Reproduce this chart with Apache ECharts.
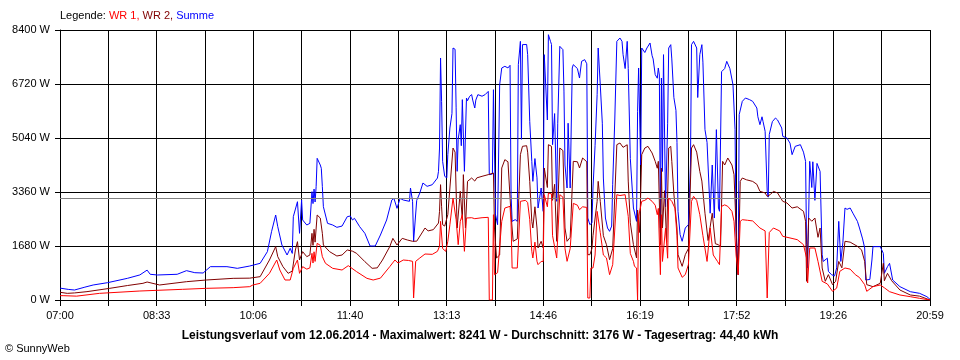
<!DOCTYPE html>
<html>
<head>
<meta charset="utf-8">
<script src="https://cdn.jsdelivr.net/npm/echarts@6/dist/echarts.min.js"></script>
<style>
html,body{margin:0;padding:0;background:#fff;}
#c{width:960px;height:360px;}
</style>
</head>
<body>
<div id="c"></div>
<script>
// time axis: minutes after 07:00, up to 20:59
const xMax = 839;
const tickLabels = ['07:00','08:33','10:06','11:40','13:13','14:46','16:19','17:52','19:26','20:59'];
const yMax = 8400;
const yStep = 1680;
const average = 3176;

// Summe [minute, W]
const summe = [[0,370],[8,330],[14,311],[24,400],[32,467],[46,540],[65,674],[77,780],[84,930],[87,800],[94,778],[113,800],[122,913],[130,850],[138,840],[145,1037],[161,1037],[171,985],[183,1057],[193,1141],[200,1504],[204,2125],[208,2644],[210,2281],[214,1711],[219,1400],[222,1608],[224,1450],[225,2592],[229,3058],[231,2074],[233,3111],[234,2489],[238,2333],[241,2385],[243,3370],[244,3000],[245,3450],[246,3050],[247,3526],[248,4408],[249,4350],[251,4200],[252,4097],[253,3526],[254,2903],[258,2385],[263,2333],[267,2261],[272,2300],[277,2592],[280,2613],[282,2489],[284,2541],[289,2281],[294,2074],[299,1680],[304,1680],[309,2022],[315,2489],[320,3111],[322,3163],[325,2852],[328,3163],[331,3111],[337,3070],[338,3484],[340,3070],[341,1826],[344,3100],[347,3329],[350,3640],[354,3536],[359,3587],[364,3795],[365,4003],[366,4728],[367,7529],[368,6180],[369,4314],[371,3848],[373,3800],[374,4522],[376,5351],[378,5800],[379,7840],[381,7800],[382,6000],[383,4003],[384,5000],[386,5455],[387,4800],[388,6233],[390,4003],[392,6284],[393,6200],[395,6336],[397,6390],[398,6220],[400,5973],[401,6220],[403,6388],[407,6340],[410,6390],[413,6490],[414,3900],[417,3920],[418,6543],[419,6600],[420,2654],[422,2343],[424,6698],[426,7218],[429,7270],[432,7220],[434,7300],[435,3277],[436,2447],[439,2500],[441,2447],[442,7322],[444,8047],[445,5000],[446,7944],[450,7950],[451,7633],[453,5558],[455,4314],[456,3692],[458,4400],[460,3800],[461,2862],[464,3484],[466,2758],[467,7633],[470,5600],[471,8254],[473,8047],[474,7950],[475,4832],[477,5800],[479,3070],[480,5500],[482,7892],[485,7788],[486,6500],[487,4200],[489,3484],[490,5500],[492,3484],[494,7218],[495,7322],[499,7200],[501,6906],[503,7425],[506,7477],[508,7350],[509,2551],[511,2343],[513,2400],[514,3484],[516,4800],[518,6388],[519,7840],[521,6700],[523,5500],[524,3795],[526,2551],[528,2240],[530,2136],[532,2300],[533,3600],[535,5600],[537,8047],[540,8151],[542,8047],[543,7633],[545,7200],[547,8047],[548,7200],[550,4400],[553,2862],[556,2447],[557,5870],[558,7218],[560,4200],[561,7840],[564,7700],[566,7840],[569,7996],[571,7600],[572,7500],[574,7011],[576,6900],[577,7218],[578,7000],[579,2240],[580,6906],[581,4000],[582,7633],[584,2900],[586,5500],[587,7840],[589,7944],[590,7500],[592,6300],[594,5900],[595,4900],[596,2758],[598,2033],[600,1826],[603,2240],[606,2343],[608,4200],[609,7944],[611,8047],[614,7840],[615,6300],[617,7633],[619,7944],[620,7400],[622,5300],[624,4900],[627,2700],[629,4200],[631,2550],[633,5300],[635,2862],[636,2760],[638,7103],[641,7200],[643,7425],[646,7200],[649,6698],[651,5300],[652,2033],[654,788],[655,5766],[658,6180],[661,6284],[665,6233],[668,6180],[672,5973],[673,5700],[675,5455],[677,5700],[678,5550],[680,5247],[682,3381],[683,3200],[684,5150],[687,5550],[690,5662],[692,5600],[696,5351],[697,5092],[701,5040],[704,4880],[706,4522],[709,4780],[714,4832],[717,4600],[719,4314],[720,1721],[721,996],[723,4314],[725,3500],[726,4300],[728,3100],[730,4250],[731,4200],[733,4000],[735,1410],[736,1200],[740,1300],[741,892],[744,788],[747,750],[749,1000],[751,2447],[753,1200],[755,1800],[757,2862],[759,2820],[762,2862],[765,2680],[769,2447],[771,2240],[774,1900],[776,1618],[777,622],[781,640],[783,1244],[784,1660],[791,1660],[794,1452],[795,830],[798,1037],[800,1141],[803,622],[810,415],[820,259],[829,207],[836,104],[839,21]];

// WR 2 [minute, W]
const wr2 = [[0,240],[7,207],[14,220],[26,260],[48,363],[65,450],[80,519],[84,560],[96,467],[122,570],[141,622],[167,674],[183,680],[193,726],[202,1244],[208,1660],[210,1348],[215,1037],[220,830],[224,900],[227,1556],[229,1815],[231,1244],[234,1504],[238,1348],[241,1400],[243,2074],[244,1700],[245,2200],[246,1800],[248,2644],[251,2550],[253,2074],[254,1711],[260,1504],[267,1369],[272,1400],[277,1556],[282,1520],[286,1452],[294,1193],[301,985],[306,1000],[311,1244],[318,1660],[321,1918],[325,1711],[330,1918],[335,1867],[340,1826],[344,1830],[349,2084],[352,2240],[355,2150],[360,2188],[365,2395],[366,2758],[367,3588],[368,2900],[369,2343],[371,2300],[374,2654],[376,3484],[379,4728],[381,4600],[383,2240],[386,3381],[388,2500],[389,3900],[391,2240],[393,3692],[397,3795],[400,3700],[402,3800],[407,3848],[413,3900],[418,3950],[419,2240],[421,1307],[424,1400],[426,4107],[429,4366],[432,4300],[435,2654],[437,1826],[441,1900],[444,4522],[446,4781],[450,4800],[451,4600],[453,3692],[455,2447],[456,2240],[458,2900],[460,2240],[461,1618],[464,1826],[466,1618],[467,4107],[470,3500],[471,4832],[474,4780],[475,3100],[477,3600],[479,1826],[482,4728],[485,4650],[487,2240],[489,1826],[492,1950],[495,4314],[499,4300],[501,4107],[504,4418],[508,4300],[509,1410],[511,1410],[513,1600],[514,2000],[518,3070],[519,3692],[521,3070],[524,2000],[527,1721],[530,1255],[533,1600],[537,4832],[540,4884],[543,4750],[547,4830],[548,3700],[550,2400],[553,1721],[556,1307],[557,2800],[559,2100],[561,4522],[564,4728],[567,4780],[571,4573],[574,4314],[576,4100],[577,4314],[579,1721],[580,4100],[581,2240],[583,3400],[585,1800],[587,4728],[589,4780],[590,4314],[592,3300],[595,2240],[596,1410],[600,1048],[603,1410],[606,1600],[609,4728],[611,4832],[614,4600],[617,4000],[619,3700],[622,2700],[625,1850],[629,2700],[632,1750],[635,1721],[637,1650],[639,4314],[641,4200],[644,4418],[648,4200],[650,3900],[652,2240],[654,788],[656,3692],[658,3795],[662,3740],[668,3690],[672,3600],[675,3381],[680,3330],[682,3225],[685,3280],[688,3381],[692,3330],[697,3070],[701,3020],[706,2862],[711,2900],[717,2758],[719,2450],[720,581],[722,2551],[725,2450],[728,2551],[731,1950],[733,2240],[735,996],[738,581],[741,790],[745,477],[748,581],[751,1200],[754,1000],[757,1826],[762,1800],[769,1670],[773,1560],[776,1200],[778,477],[784,415],[791,519],[794,1141],[795,600],[798,830],[802,600],[810,311],[820,156],[829,120],[839,0]];

// WR 1 [minute, W]
const wr1 = [[0,135],[3,135],[16,120],[38,207],[77,280],[118,332],[141,363],[167,384],[183,415],[186,467],[193,519],[202,830],[209,1244],[212,933],[217,622],[222,622],[225,985],[229,1244],[231,830],[234,1037],[238,960],[241,1000],[243,1452],[244,1150],[245,1500],[246,1200],[248,1763],[251,1700],[253,1348],[256,1141],[263,985],[272,933],[278,1068],[286,882],[296,674],[302,622],[309,680],[318,1037],[323,1244],[326,1150],[331,1244],[336,1230],[340,1203],[341,62],[343,1203],[347,1307],[352,1431],[359,1420],[364,1514],[366,1670],[367,2447],[369,1600],[372,1514],[374,1826],[376,2343],[379,3173],[382,2500],[384,1721],[386,2447],[388,2654],[390,1514],[392,2551],[397,2560],[400,2530],[407,2560],[413,2572],[414,0],[417,0],[418,2654],[419,788],[422,850],[426,2447],[429,2862],[434,2914],[435,2400],[436,996],[441,996],[444,3070],[449,3100],[451,3030],[453,2500],[455,1514],[456,1307],[458,1800],[460,1203],[461,1100],[464,1200],[466,1200],[467,3277],[470,2900],[471,3329],[474,3300],[475,2000],[479,1307],[482,3277],[485,3200],[487,1600],[489,1203],[492,1600],[495,3007],[499,2950],[501,2810],[504,2900],[508,2880],[509,62],[511,62],[512,996],[514,996],[516,1400],[518,2758],[521,2100],[524,1400],[527,1307],[530,788],[533,1100],[537,3277],[540,3250],[545,3277],[548,2600],[550,1450],[553,1203],[554,1048],[556,996],[557,0],[558,2600],[561,3070],[564,3100],[567,3173],[571,3070],[574,2950],[576,2654],[577,2850],[579,788],[580,2654],[581,1200],[584,2240],[586,1300],[587,3173],[590,3070],[593,2860],[595,2000],[596,996],[600,706],[603,790],[606,1100],[609,3070],[611,3225],[614,3100],[617,2654],[620,2000],[624,1200],[627,2240],[630,1400],[634,1203],[636,1100],[638,2914],[641,2960],[644,2914],[648,2758],[650,2450],[652,1400],[654,788],[656,2447],[658,2499],[663,2480],[668,2460],[675,2240],[680,2150],[682,62],[684,2100],[688,2240],[694,2150],[697,1981],[704,1930],[711,1877],[717,1721],[720,1300],[721,529],[723,1618],[728,1618],[731,1200],[735,581],[740,500],[745,270],[749,370],[752,892],[757,996],[762,960],[767,788],[771,700],[776,477],[778,270],[784,415],[791,467],[795,380],[800,259],[810,156],[820,104],[829,52],[839,0]];

const FONT = 'Liberation Sans, Arial, sans-serif';
const chart = echarts.init(document.getElementById('c'), null, {renderer: 'canvas'});
const step = xMax / 18;

chart.setOption({
  animation: false,
  backgroundColor: '#ffffff',
  grid: {left: 60, right: 30, top: 30, bottom: 60, containLabel: false},
  xAxis: {
    type: 'value', min: 0, max: xMax, interval: step,
    axisLine: {show: true, lineStyle: {color: '#000', width: 1}},
    axisTick: {show: true, length: 6, lineStyle: {color: '#000'}},
    axisLabel: {
      color: '#000', fontSize: 11, fontFamily: FONT, margin: 10,
      showMaxLabel: true,
      formatter: function (v) {
        const i = Math.round(v / step);
        return i % 2 === 0 ? (tickLabels[i / 2] || '') : '';
      }
    },
    splitLine: {show: true, lineStyle: {color: '#000', width: 1}}
  },
  yAxis: {
    type: 'value', min: 0, max: yMax, interval: yStep,
    axisLine: {show: true, lineStyle: {color: '#000', width: 1}},
    axisTick: {show: true, length: 5, lineStyle: {color: '#000'}},
    axisLabel: {color: '#000', fontSize: 11, fontFamily: FONT, margin: 10, formatter: v => v + ' W'},
    splitLine: {show: true, lineStyle: {color: '#000', width: 1}}
  },
  series: [
    {
      name: 'Summe', type: 'line', data: summe, showSymbol: false, symbol: 'none',
      lineStyle: {color: '#0000ff', width: 1}, itemStyle: {color: '#0000ff'}, z: 3,
      markLine: {
        silent: true, symbol: 'none', label: {show: false},
        lineStyle: {color: '#808080', width: 1, type: 'solid'},
        data: [{yAxis: average}]
      }
    },
    {
      name: 'WR 2', type: 'line', data: wr2, showSymbol: false, symbol: 'none',
      lineStyle: {color: '#800000', width: 1}, itemStyle: {color: '#800000'}, z: 4
    },
    {
      name: 'WR 1', type: 'line', data: wr1, showSymbol: false, symbol: 'none',
      lineStyle: {color: '#ff0000', width: 1}, itemStyle: {color: '#ff0000'}, z: 5
    }
  ],
  graphic: [
    {
      type: 'text', left: 60, top: 10,
      style: {
        text: '{k|Legende: }{a|WR 1, }{b|WR 2, }{c|Summe}',
        font: '11px ' + FONT,
        rich: {
          k: {fill: '#000', fontSize: 11, fontFamily: FONT},
          a: {fill: '#ff0000', fontSize: 11, fontFamily: FONT},
          b: {fill: '#800000', fontSize: 11, fontFamily: FONT},
          c: {fill: '#0000ff', fontSize: 11, fontFamily: FONT}
        }
      }
    },
    {
      type: 'text', left: 'center', top: 330,
      style: {
        text: 'Leistungsverlauf vom 12.06.2014 - Maximalwert: 8241 W - Durchschnitt: 3176 W - Tagesertrag: 44,40 kWh',
        font: 'bold 12px ' + FONT, fill: '#000'
      }
    },
    {
      type: 'text', left: 5, top: 343,
      style: {text: '© SunnyWeb', font: '11px ' + FONT, fill: '#000'}
    }
  ]
});
</script>
</body>
</html>
